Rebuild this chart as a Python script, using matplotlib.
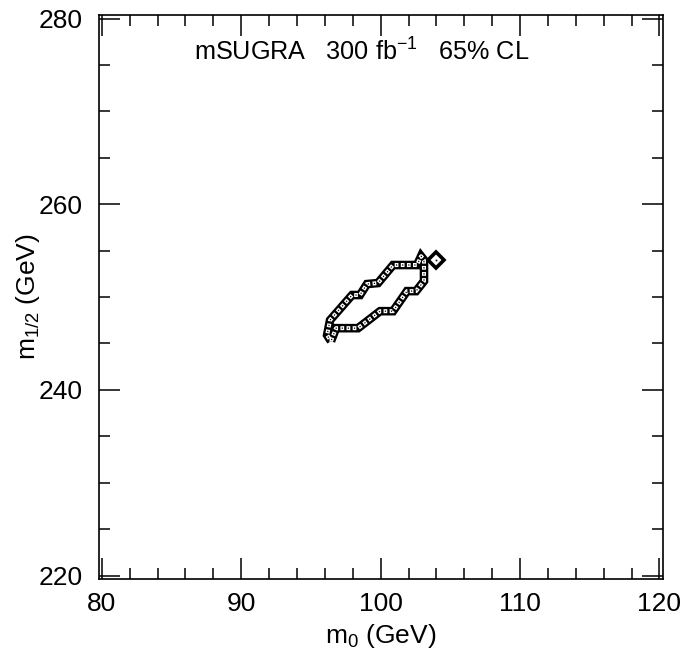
import matplotlib
matplotlib.use("Agg")
import matplotlib.pyplot as plt
from matplotlib.ticker import MultipleLocator

plt.rcParams['font.family'] = ['Liberation Sans', 'DejaVu Sans']
plt.rcParams['mathtext.fontset'] = 'custom'
plt.rcParams['mathtext.rm'] = 'Liberation Sans'
plt.rcParams['mathtext.it'] = 'Liberation Sans'
plt.rcParams['mathtext.default'] = 'regular'
plt.rcParams['lines.scale_dashes'] = False

# 65% CL contour in the (m0, m1/2) plane
m0_contour = [96.44, 96.80, 98.38, 99.96, 100.89, 101.89, 102.54, 103.11, 103.11,
              102.90, 102.61, 100.89, 99.81, 99.02, 98.52, 97.95, 96.37, 96.16, 96.44]
m12_contour = [245.25, 246.65, 246.65, 248.48, 248.48, 250.64, 250.64, 251.72, 254.00,
               254.40, 253.45, 253.45, 251.51, 251.40, 250.22, 250.22, 247.51, 245.90, 245.25]

# isolated island of the contour
m0_island = [103.98]
m12_island = [253.98]

x_ticks = [80, 90, 100, 110, 120]
y_ticks = [220, 240, 260, 280]

fig = plt.figure(figsize=(6.81, 6.5), dpi=100)
ax = fig.add_axes([0.1454, 0.1092, 0.8275, 0.8677])

# band: black outline, white cells, black dot in each cell
ax.plot(m0_contour, m12_contour, color='black', lw=6.2, solid_joinstyle='miter',
        solid_capstyle='butt', zorder=3)
ax.plot(m0_contour, m12_contour, color='white', lw=2.9, ls=(0, (2.7, 1.7)),
        dash_capstyle='butt', zorder=4)
ax.plot(m0_contour, m12_contour, color='black', lw=0.9, ls=(3.5, (0.9, 3.5)),
        dash_capstyle='butt', zorder=5)
ax.plot(m0_island, m12_island, marker='D', ms=8.5, mfc='white', mec='black', mew=2.6,
        ls='none', zorder=5)
ax.plot(m0_island, m12_island, marker='s', ms=1.2, mfc='black', mec='black', mew=0,
        ls='none', zorder=6)

ax.set_xlim(79.8, 120.22)
ax.set_ylim(219.63, 280.38)
ax.set_xticks(x_ticks)
ax.set_yticks(y_ticks)
ax.xaxis.set_minor_locator(MultipleLocator(2))
ax.yaxis.set_minor_locator(MultipleLocator(5))
ax.tick_params(which='both', direction='in', top=True, right=True, width=1.1,
               labelsize=19, color='black')
ax.tick_params(which='major', length=15, pad=9)
ax.tick_params(axis='y', which='major', pad=12)
ax.tick_params(which='minor', length=8)
for s in ax.spines.values():
    s.set_linewidth(1.2)

ax.set_xlabel(r'm$_0$ (GeV)', fontsize=19, labelpad=5)
ax.set_ylabel(r'm$_{1/2}$ (GeV)', fontsize=19, labelpad=-3)

ax.text(0.466, 0.934, r'mSUGRA   300 fb$^{-1}$   65% CL', transform=ax.transAxes,
        ha='center', va='center', fontsize=18.2)

fig.savefig('out.png', dpi=100)
